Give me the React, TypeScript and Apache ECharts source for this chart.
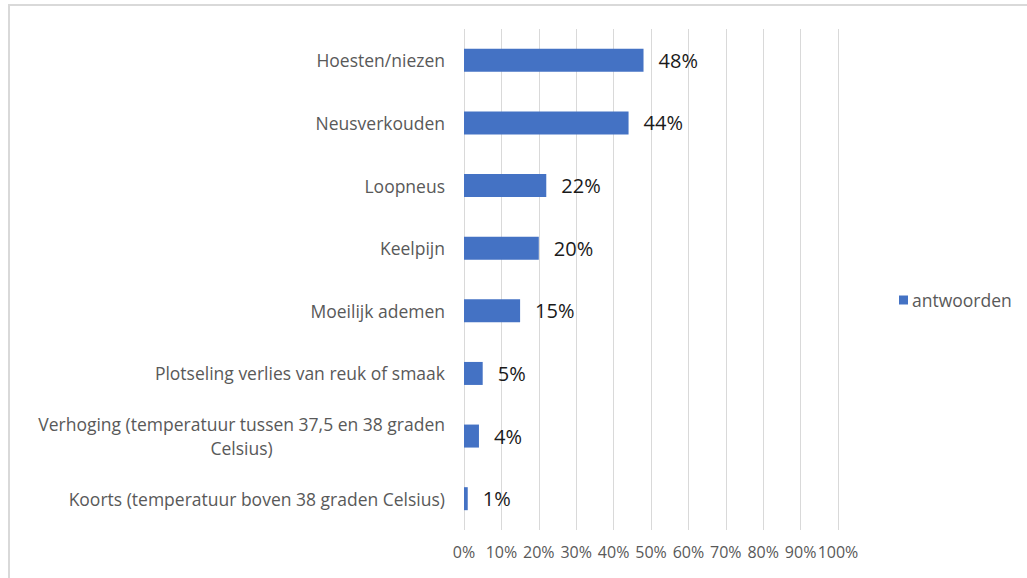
import React, { useEffect, useRef } from "react";
import * as echarts from "echarts";

const categories = [
  "Koorts (temperatuur boven 38 graden Celsius)",
  "Verhoging (temperatuur tussen 37,5 en 38 graden\nCelsius)",
  "Plotseling verlies van reuk of smaak",
  "Moeilijk ademen",
  "Keelpijn",
  "Loopneus",
  "Neusverkouden",
  "Hoesten/niezen",
];
const values = [1, 4, 5, 15, 20, 22, 44, 48];
const seriesName = "antwoorden";
const xTicks = [0, 10, 20, 30, 40, 50, 60, 70, 80, 90, 100];

const FONT = '"Open Sans", "Noto Sans", sans-serif';

export default function App() {
  const ref = useRef<HTMLDivElement>(null);
  useEffect(() => {
    if (!ref.current) return;
    const chart = echarts.init(ref.current, undefined, { renderer: "svg" });
    const option: any = {
      animation: false,
      backgroundColor: "#ffffff",
      textStyle: { fontFamily: FONT },
      graphic: [
        {
          type: "rect",
          shape: { x: 9, y: 5, width: 1040, height: 600 },
          style: { fill: "none", stroke: "#d9d9d9", lineWidth: 2 },
          silent: true,
        },
      ],
      legend: {
        data: [seriesName],
        left: 894,
        top: 286,
        orient: "vertical",
        icon: "rect",
        itemWidth: 9,
        itemHeight: 9,
        itemGap: 5,
        textStyle: { fontSize: 17.5, color: "#595959", fontFamily: FONT, padding: [0, 0, 0, -1] },
      },
      grid: { left: 464, right: 189, top: 29, bottom: 48, containLabel: false },
      xAxis: {
        type: "value",
        min: 0,
        max: 100,
        interval: 10,
        axisLine: { show: false },
        axisTick: { show: false },
        splitLine: { show: true, lineStyle: { color: "#d9d9d9", width: 1 } },
        axisLabel: {
          formatter: (v: number) => (xTicks.includes(v) ? v + "%" : ""),
          fontSize: 16,
          color: "#595959",
          margin: 14,
          fontFamily: FONT,
        },
      },
      yAxis: {
        type: "category",
        data: categories,
        axisLine: { show: false },
        axisTick: { show: false },
        axisLabel: {
          fontSize: 17.5,
          color: "#595959",
          margin: 19,
          fontFamily: FONT,
          lineHeight: 24,
          formatter: (v: string) => {
            if (v.includes("\n")) {
              const parts = v.split("\n");
              return "{l1|" + parts[0] + "}\n{l2|" + parts[1] + "}";
            }
            return v;
          },
          rich: {
            l1: { fontSize: 17.5, color: "#595959", fontFamily: FONT, lineHeight: 24 },
            l2: { fontSize: 17.5, color: "#595959", fontFamily: FONT, lineHeight: 24, align: "center" },
          },
        },
      },
      series: [
        {
          name: seriesName,
          type: "bar",
          data: values,
          barWidth: 23,
          itemStyle: { color: "#4472C4" },
          label: {
            show: true,
            position: "right",
            distance: 15,
            formatter: (p: any) => p.value + "%",
            fontSize: 20,
            color: "#1a1a1a",
            fontFamily: FONT,
          },
        },
      ],
    };
    chart.setOption(option);
    return () => chart.dispose();
  }, []);
  return (
    <div
      ref={ref}
      style={{ position: "fixed", left: 0, top: 0, width: 1027, height: 578 }}
    />
  );
}
